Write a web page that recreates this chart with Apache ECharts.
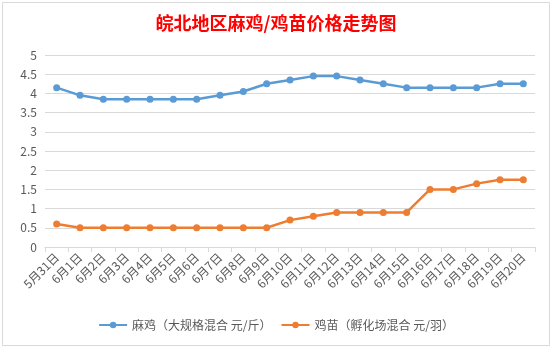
<!DOCTYPE html>
<html><head><meta charset="utf-8">
<script src="https://cdn.jsdelivr.net/npm/echarts@6/dist/echarts.min.js"></script>
<style>html,body{margin:0;padding:0;background:#fff}#c{width:552px;height:348px}</style>
</head><body><div id="c"></div>
<script>
const categories = ['5月31日','6月1日','6月2日','6月3日','6月4日','6月5日','6月6日','6月7日','6月8日','6月9日','6月10日','6月11日','6月12日','6月13日','6月14日','6月15日','6月16日','6月17日','6月18日','6月19日','6月20日'];
const maji = [4.15,3.95,3.85,3.85,3.85,3.85,3.85,3.95,4.05,4.25,4.35,4.45,4.45,4.35,4.25,4.15,4.15,4.15,4.15,4.25,4.25];
const jimiao = [0.6,0.5,0.5,0.5,0.5,0.5,0.5,0.5,0.5,0.5,0.7,0.8,0.9,0.9,0.9,0.9,1.5,1.5,1.65,1.75,1.75];
const seriesNames = ['麻鸡（大规格混合 元/斤）','鸡苗（孵化场混合 元/羽）'];
const titleText = '皖北地区麻鸡/鸡苗价格走势图';

const font = '"Noto Sans CJK SC", "Noto Sans", sans-serif';
const chart = echarts.init(document.getElementById('c'), null, {renderer:'canvas'});
chart.setOption({
  animation:false,
  backgroundColor:'#fff',
  graphic:[{type:'rect',shape:{x:2.5,y:2.5,width:547,height:343},style:{fill:'none',stroke:'#d9d9d9',lineWidth:1}}],
  title:{text:titleText,left:'center',top:9,textStyle:{color:'#ff0000',fontSize:18,fontWeight:'bold',fontFamily:font}},
  grid:{left:45,right:17,top:55,bottom:101,containLabel:false},
  legend:{bottom:12,left:'center',itemWidth:28,itemHeight:8,itemGap:9,
    textStyle:{color:'#595959',fontSize:12,fontFamily:font},
    data:seriesNames},
  xAxis:{type:'category',data:categories,boundaryGap:true,
    axisLine:{lineStyle:{color:'#d9d9d9',width:1}},
    axisTick:{show:true,length:5,lineStyle:{color:'#d9d9d9'}},
    axisLabel:{rotate:45,color:'#595959',fontSize:12,fontFamily:font,interval:0,margin:8}},
  yAxis:{type:'value',min:0,max:5,interval:0.5,
    axisLine:{show:false},axisTick:{show:false},
    splitLine:{lineStyle:{color:'#d9d9d9',width:1}},
    axisLabel:{color:'#595959',fontSize:12,fontFamily:font,margin:8}},
  series:[
    {name:seriesNames[0],type:'line',data:maji,symbol:'circle',symbolSize:7,
      lineStyle:{color:'#5b9bd5',width:2.5},itemStyle:{color:'#5b9bd5'}},
    {name:seriesNames[1],type:'line',data:jimiao,symbol:'circle',symbolSize:7,
      lineStyle:{color:'#ed7d31',width:2.5},itemStyle:{color:'#ed7d31'}}
  ]
});
</script></body></html>
